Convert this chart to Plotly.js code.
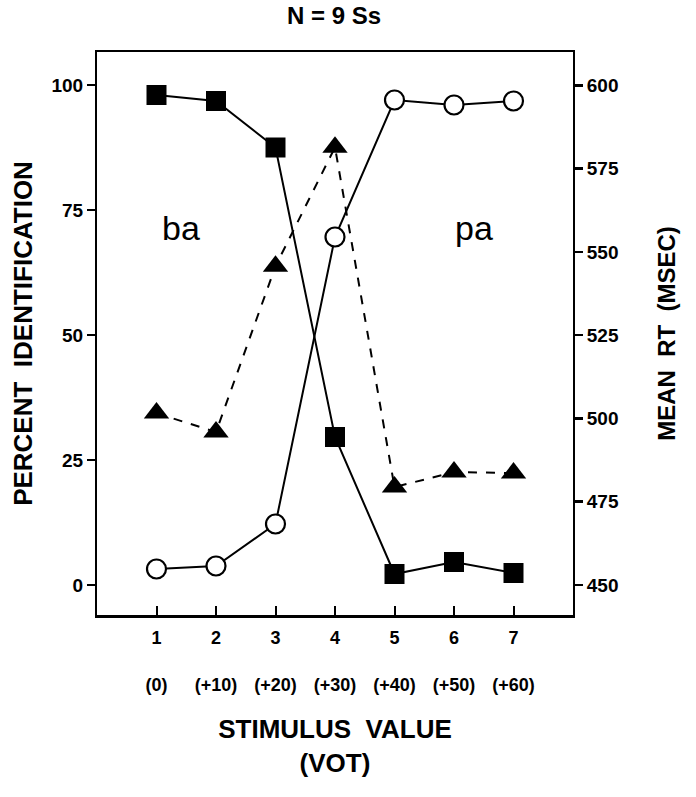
<!DOCTYPE html>
<html>
<head>
<meta charset="utf-8">
<script src="https://cdn.plot.ly/plotly-3.0.1.min.js"></script>
<style>html,body{margin:0;padding:0;background:#fff;}#chart{width:696px;height:797px;}</style>
</head>
<body>
<div id="chart"></div>
<script>
const stimulus = [1, 2, 3, 4, 5, 6, 7];
const tickLabels = ["1", "2", "3", "4", "5", "6", "7"];
const votLabels = ["(0)", "(+10)", "(+20)", "(+30)", "(+40)", "(+50)", "(+60)"];
const baPercent = [98, 96.8, 87.5, 29.6, 2.2, 4.6, 2.4];
const paPercent = [3.2, 3.8, 12.2, 69.6, 97, 96, 96.8];
const meanRT = [501.6, 495.9, 545.7, 581.4, 479.4, 483.9, 483.6];

const F = "Liberation Sans, Arial, sans-serif";
const ticktext = tickLabels.map((t, i) => t + "<br> <br>" + votLabels[i]);

const traces = [
  {
    x: stimulus, y: baPercent, type: "scatter", mode: "lines+markers",
    line: {color: "#000", width: 2},
    marker: {symbol: "square", size: 20, color: "#000"},
    yaxis: "y", showlegend: false
  },
  {
    x: stimulus, y: paPercent, type: "scatter", mode: "lines+markers",
    line: {color: "#000", width: 2},
    marker: {symbol: "circle", size: 19, color: "#fff", line: {color: "#000", width: 2.2}},
    yaxis: "y", showlegend: false
  },
  {
    x: stimulus, y: meanRT, type: "scatter", mode: "lines+markers",
    line: {color: "#000", width: 2, dash: "dash"},
    marker: {symbol: "triangle-up", size: 22, color: "#000"},
    yaxis: "y2", showlegend: false
  }
];

const layout = {
  width: 696, height: 797,
  margin: {l: 97, r: 123, t: 52, b: 182},
  paper_bgcolor: "#fff", plot_bgcolor: "#fff",
  font: {family: F, color: "#000", size: 18, weight: "bold"},
  title: {text: "N = 9 Ss", x: 0.48, xanchor: "center", y: 0.981, yanchor: "middle",
          font: {family: F, size: 24, weight: "bold"}},
  xaxis: {
    range: [0, 8], tickvals: stimulus, ticktext: ticktext,
    ticks: "inside", ticklen: 9, tickwidth: 2, tickcolor: "#000",
    showline: true, linewidth: 2.5, linecolor: "#000", mirror: true,
    showgrid: false, zeroline: false, ticklabelstandoff: 5,
    tickfont: {family: F, size: 18, weight: "bold"},
    title: {text: "STIMULUS  VALUE<br>(VOT)", standoff: 26,
            font: {family: F, size: 26}}
  },
  yaxis: {
    range: [-6, 106.6], tickvals: [0, 25, 50, 75, 100],
    ticks: "outside", ticklen: 8, tickwidth: 2.5, tickcolor: "#000",
    showline: true, linewidth: 2, linecolor: "#000",
    showgrid: false, zeroline: false,
    tickfont: {family: F, size: 19, weight: "bold"},
    title: {text: "PERCENT  IDENTIFICATION", standoff: 11,
            font: {family: F, size: 26}}
  },
  yaxis2: {
    range: [441, 610], tickvals: [450, 475, 500, 525, 550, 575, 600],
    overlaying: "y", side: "right",
    ticks: "outside", ticklen: 8, tickwidth: 2.5, tickcolor: "#000",
    showline: true, linewidth: 2, linecolor: "#000",
    showgrid: false, zeroline: false,
    tickfont: {family: F, size: 19, weight: "bold"},
    title: {text: "MEAN  RT  (MSEC)", standoff: 40,
            font: {family: F, size: 24}}
  },
  annotations: [
    {x: 1.42, y: 71.5, xref: "x", yref: "y", text: "ba", showarrow: false,
     font: {family: F, size: 34, weight: "normal"}},
    {x: 6.33, y: 71.5, xref: "x", yref: "y", text: "pa", showarrow: false,
     font: {family: F, size: 34, weight: "normal"}}
  ]
};

Plotly.newPlot("chart", traces, layout, {displayModeBar: false, staticPlot: true});
</script>
</body>
</html>
